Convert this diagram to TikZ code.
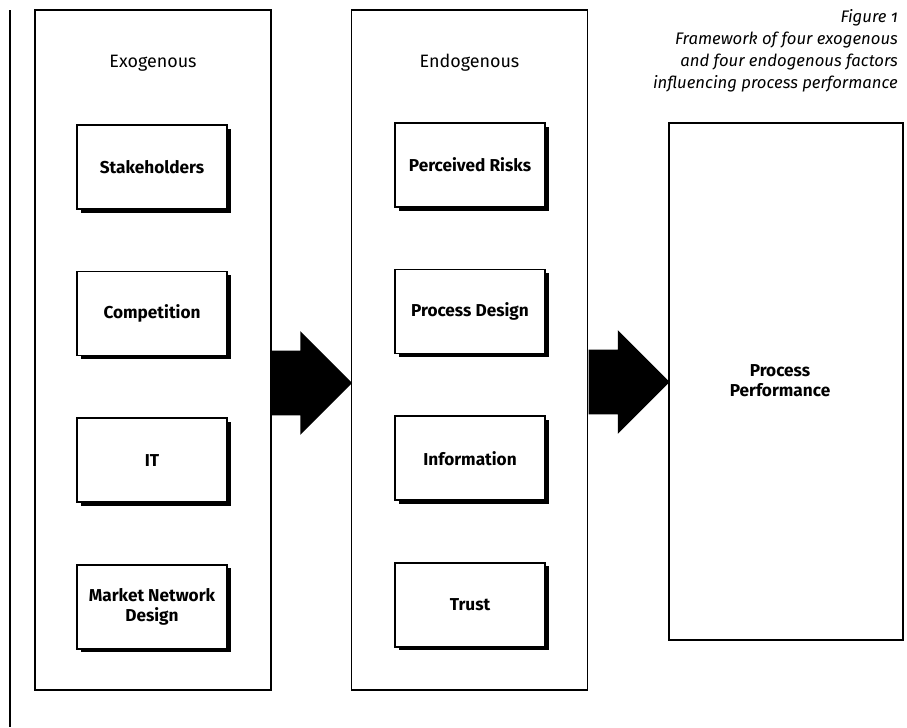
\documentclass[tikz,border=0pt]{standalone}
\usepackage{fontspec}
\setmainfont[Numbers=OldStyle]{Fira Sans}
\usepackage{tikz}
\usetikzlibrary{positioning,shapes.arrows,shadows}

\begin{document}
\begin{tikzpicture}[
group/.style={
  draw,
  line width=0.9pt,
  minimum width=4.72cm,
  minimum height=13.6cm
  },
factor/.style={
  draw,
  fill=white,
  line width=0.9pt,
  minimum width=3cm,
  minimum height=1.68cm,
  align=center,
  font=\fontsize{9.8}{11.5}\selectfont\bfseries,
  drop shadow={shadow xshift=0.07cm, shadow yshift=-0.07cm, fill=black, opacity=1}
  },
title/.style={
  font=\fontsize{10.2}{12}\selectfont
  },
bigarrow/.style={
  single arrow,
  fill=black,
  inner sep=0pt,
  anchor=tail,
  minimum height=1.6cm,
  single arrow head extend=0.39cm,
  single arrow tip angle=90
  }
]
\useasboundingbox (0,0) rectangle (18.14,-14.54);

\draw[line width=0.9pt] (0.2,-0.2) coordinate (top) -- (0.2,-14.54) coordinate (bottom);

\node[group] (exo) at (3.06,-7.0) {};
\node[group] (endo) at (9.39,-7.0) {};
\node[group, minimum width=4.68cm, minimum height=10.34cm] (perf) at (15.72,-7.63) {};
\node[align=center, font=\fontsize{9.8}{11.5}\selectfont\bfseries]
  (perftext) at (15.6,-7.62) {Process\\Performance};

\node[title] (exotitle) at (3.06,-1.26) {Exogenous};
\node[title] (endotitle) at (9.39,-1.26) {Endogenous};

\node[factor] (stake) at (3.04,-3.34) {Stakeholders};
\node[factor, below=1.22cm of stake] (comp) {Competition};
\node[factor, below=1.22cm of comp] (it) {IT};
\node[factor, below=1.22cm of it] (mnd) {Market Network\\Design};

\node[factor] (risk) at (9.4,-3.3) {Perceived Risks};
\node[factor, below=1.22cm of risk] (design) {Process Design};
\node[factor, below=1.22cm of design] (info) {Information};
\node[factor, below=1.22cm of info] (trust) {Trust};

\node[bigarrow] (arr1) at (exo.east |- 0,-7.66) {\rule{0pt}{1.28cm}};
\node[bigarrow, minimum height=1.62cm] (arr2) at (endo.east |- 0,-7.64) {\rule{0pt}{1.28cm}};

\node[anchor=north east, align=right, font=\fontsize{9.5}{12.5}\selectfont\itshape]
  (caption) at (18.08,-0.06)
  {Figure 1\\Framework of four exogenous\\and four endogenous factors\\influencing process performance};

\end{tikzpicture}
\end{document}
